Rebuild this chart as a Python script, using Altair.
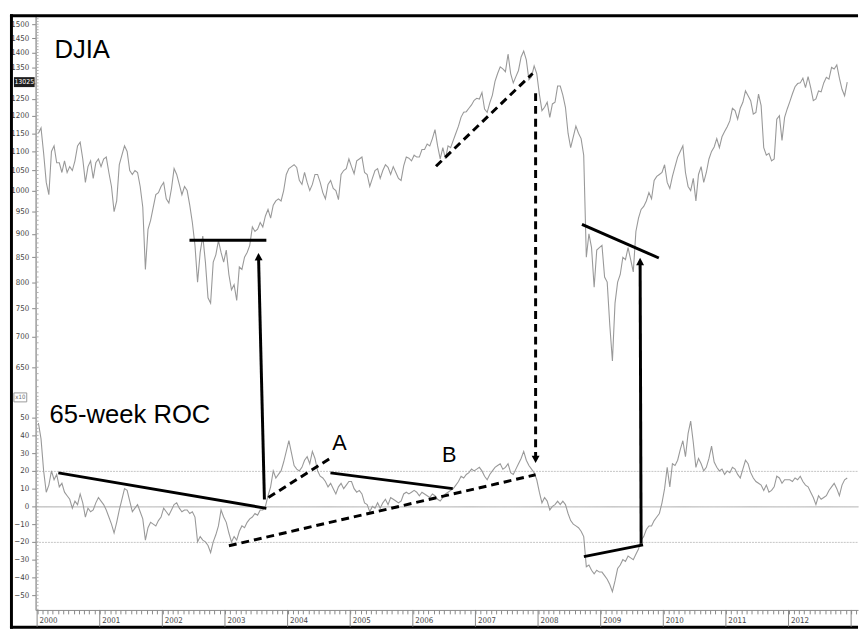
import altair as alt
import pandas as pd

# ---------------- data (DJIA in x10 units, semi-monthly readings) ----------------
years = list(range(2000, 2013))

djia_2000 = [1150, 1165, 1095, 1020, 990, 1100, 1115, 1070, 1070, 1045, 1075, 1045, 1060, 1050, 1075, 1115, 1125, 1080, 1020, 1060, 1075, 1030, 1070, 1080]
djia_2001 = [1060, 1080, 1085, 1045, 1010, 950, 975, 1065, 1090, 1115, 1100, 1050, 1040, 1050, 1045, 1010, 960, 825, 910, 930, 960, 990, 995, 1010]
djia_2002 = [1020, 980, 970, 1005, 1055, 1040, 1015, 990, 1010, 1000, 965, 925, 875, 800, 860, 895, 840, 770, 760, 840, 855, 885, 860, 840]
djia_2003 = [865, 815, 785, 795, 765, 830, 825, 850, 860, 875, 915, 905, 910, 925, 915, 940, 955, 935, 965, 975, 980, 975, 1000, 1040]
djia_2004 = [1055, 1060, 1065, 1058, 1025, 1015, 1045, 1020, 1000, 1015, 1040, 1040, 1020, 995, 980, 1015, 1025, 1005, 1000, 978, 1040, 1050, 1055, 1080]
djia_2005 = [1060, 1042, 1075, 1080, 1085, 1045, 1040, 1010, 1030, 1050, 1055, 1030, 1050, 1065, 1058, 1040, 1060, 1045, 1030, 1025, 1062, 1085, 1082, 1075]
djia_2006 = [1090, 1085, 1085, 1105, 1105, 1120, 1115, 1135, 1160, 1115, 1080, 1110, 1080, 1115, 1110, 1130, 1150, 1170, 1196, 1210, 1212, 1222, 1232, 1246]
djia_2007 = [1252, 1250, 1270, 1220, 1210, 1238, 1262, 1305, 1330, 1352, 1345, 1336, 1395, 1330, 1300, 1320, 1340, 1385, 1405, 1375, 1310, 1320, 1355, 1330]
djia_2008 = [1265, 1215, 1225, 1240, 1195, 1235, 1240, 1290, 1290, 1262, 1225, 1150, 1110, 1140, 1170, 1150, 1135, 1090, 850, 900, 870, 790, 865, 870]
djia_2009 = [875, 810, 800, 720, 660, 760, 800, 815, 850, 845, 870, 845, 820, 905, 935, 955, 962, 975, 995, 980, 1025, 1035, 1040, 1045]
djia_2010 = [1065, 1020, 1005, 1035, 1060, 1085, 1100, 1115, 1045, 1010, 1000, 1030, 975, 1040, 1060, 1020, 1045, 1080, 1100, 1112, 1135, 1110, 1140, 1155]
djia_2011 = [1168, 1185, 1222, 1215, 1190, 1222, 1240, 1275, 1260, 1245, 1205, 1210, 1265, 1230, 1110, 1090, 1095, 1075, 1080, 1190, 1200, 1130, 1195, 1220]
djia_2012 = [1242, 1266, 1288, 1298, 1300, 1315, 1285, 1320, 1285, 1245, 1250, 1275, 1272, 1300, 1318, 1312, 1350, 1345, 1358, 1315, 1280, 1260, 1302.5]

roc_2000 = [47, 38, 20, 8, 12, 20, 15, 18, 11, 13, 8, 6, 4, -1, 3, 1, 7, 2, -6, -1, -3, -2, 2, 5]
roc_2001 = [3, 1, -2, -6, -10, -15, -9, -2, 4, 10, 9, 3, -3, -1, 1, -3, -7, -19, -12, -9, -10, -11, -8, -6]
roc_2002 = [-1, -3, -5, -2, 1, 2, -1, -3, -2, -2, -4, -3, -6, -20, -17, -19, -20, -22, -26, -20, -16, -11, -2, -6]
roc_2003 = [-9, -15, -20, -17, -19, -14, -11, -12, -9, -7, -6, -4, -5, -2, -2, 0, 6, 11, 20, 16, 18, 20, 25, 31]
roc_2004 = [37, 30, 23, 21, 20, 22, 26, 28, 24, 31, 27, 20, 17, 16, 14, 11, 13, 10, 7, 11, 13, 10, 12, 14]
roc_2005 = [14, 10, 8, 9, 7, 2, 1, -3, 0, -1, 2, -1, 2, 4, 1, 5, 4, 3, 2, 3, 7, 8, 7, 8]
roc_2006 = [9, 8, 6, 8, 7, 6, 5, 7, 6, 4, 3, 5, 7, 8, 9, 10, 12, 14, 17, 16, 18, 19, 21, 20]
roc_2007 = [21, 22, 20, 17, 15, 18, 20, 22, 23, 24, 21, 22, 24, 19, 18, 21, 24, 27, 31, 26, 23, 21, 19, 15]
roc_2008 = [8, 2, 5, 3, -2, 0, 1, 3, 1, 3, 1, -4, -8, -10, -11, -12, -14, -17, -34, -33, -36, -38, -36, -37]
roc_2009 = [-37, -39, -41, -44, -48, -42, -35, -33, -30, -31, -28, -29, -30, -27, -24, -19, -17, -13, -11, -11, -8, -6, -4, 2]
roc_2010 = [10, 22, 11, 24, 23, 26, 32, 37, 28, 41, 48, 36, 22, 27, 24, 20, 22, 27, 34, 25, 22, 20, 21, 18]
roc_2011 = [20, 19, 22, 21, 18, 16, 21, 26, 24, 19, 16, 14, 13, 12, 9, 12, 8, 9, 11, 17, 16, 13, 15, 15]
roc_2012 = [15, 14, 16, 15, 17, 14, 12, 11, 8, 5, 1, 6, 4, 5, 6, 9, 11, 13, 10, 6, 12, 15, 16]

djia_ticks = [650, 700, 750, 800, 850, 900, 950, 1000, 1050, 1100, 1150, 1200, 1250, 1300, 1350, 1400, 1450, 1500]
roc_ticks = [-50, -40, -30, -20, -10, 0, 10, 20, 30, 40, 50]
djia_minor_ticks = list(range(620, 1540, 10))
roc_minor_ticks = list(range(-58, 66, 2))
year_ticks = list(range(2000, 2014))
last_value = [1302.5]
last_label = ["13025"]

# annotation readings
djia_solid_t1 = [2002.433, 2008.701]
djia_solid_v1 = [886, 920.7]
djia_solid_t2 = [2003.661, 2009.929]
djia_solid_v2 = [886, 848.4]

djia_dash_t1 = [2006.370]
djia_dash_v1 = [1061]
djia_dash_t2 = [2007.913]
djia_dash_v2 = [1330]

roc_solid_t1 = [2000.339, 2003.630, 2004.685, 2008.732, 2009.646]
roc_solid_r1 = [18.9, 3.9, 18.9, -28.3, -21.1]
roc_solid_t2 = [2003.661, 2003.537, 2006.638, 2009.677, 2009.630]
roc_solid_r2 = [-1.1, 139.5, 10.0, -21.7, 136.7]

roc_dash_t1 = [2003.693, 2003.063, 2007.961]
roc_dash_r1 = [5.0, -22.2, 232.8]
roc_dash_t2 = [2004.685, 2007.961, 2007.961]
roc_dash_r2 = [27.2, 17.8, 27.7]

up_head_t = [2003.535, 2009.630]
up_head_r = [142.8, 140.0]
up_head_angle = [358.6, 0]
down_head_t = [2007.961]
down_head_r = [24.4]

# ---------------- frames ----------------
djia_values = (djia_2000 + djia_2001 + djia_2002 + djia_2003 + djia_2004 + djia_2005 + djia_2006
               + djia_2007 + djia_2008 + djia_2009 + djia_2010 + djia_2011 + djia_2012)
roc_values = (roc_2000 + roc_2001 + roc_2002 + roc_2003 + roc_2004 + roc_2005 + roc_2006
              + roc_2007 + roc_2008 + roc_2009 + roc_2010 + roc_2011 + roc_2012)
times = []
for y in years:
    for m in range(12):
        for h in (0.25, 0.75):
            times.append(y + (m + h) / 12)
times = times[:len(djia_values)]
df = pd.DataFrame({"t": times, "v": djia_values, "r": roc_values})

W, H = 834, 604
NARROW = "Liberation Sans Narrow, Arial Narrow, DejaVu Sans Condensed, Liberation Sans, sans-serif"
SANS = "Liberation Sans, Arial, sans-serif"
GRAY = "#999999"

xscale = alt.Scale(domain=[1999.976, 2013.110], nice=False, zero=False)
djia_scale = alt.Scale(type="log", domain=[359.8, 1536.5], nice=False)
roc_scale = alt.Scale(domain=[-58.33, 277.2], nice=False, zero=False)

month_ticks = [2000 + k / 12 for k in range(158)]
x_axis = alt.Axis(
    values=month_ticks, title=None, grid=False,
    labelExpr="abs(datum.value - round(datum.value)) < 0.001 && datum.value < 2012.5 ? format(datum.value, 'd') : ''",
    tickSize=4, tickColor="#888", domainColor="#888",
    labelAlign="left", labelBaseline="middle", labelPadding=7, labelOffset=2,
    labelFlush=False, labelOverlap=False, labelBound=False,
    labelFont=NARROW, labelFontSize=8, labelColor="#444",
)

djia_axis = alt.Axis(
    values=djia_ticks, orient="left", title=None, grid=False,
    labelExpr="datum.value == 1300 ? '' : datum.value",
    tickSize=4, tickColor="#888", domainColor="#999", labelPadding=3,
    labelFont=NARROW, labelFontSize=8, labelColor="#444",
)
roc_axis = alt.Axis(
    values=roc_ticks, orient="left", title=None,
    grid=True,
    gridColor={"condition": {"test": "datum.value === 0", "value": "#a8a8a8"}, "value": "#c4c4c4"},
    gridOpacity={"condition": {"test": "datum.value === 0 || abs(datum.value) === 20", "value": 1}, "value": 0},
    gridDash={"condition": {"test": "datum.value === 0", "value": [1, 0]}, "value": [2, 1]},
    gridWidth=1,
    tickSize=4, tickColor="#888", domainColor="#999", labelPadding=3,
    labelFont=NARROW, labelFontSize=8, labelColor="#444",
)


def X(field):
    return alt.X(field, type="quantitative", scale=xscale, axis=x_axis)


def YD(field):
    return alt.Y(field, type="quantitative", scale=djia_scale, axis=djia_axis)


def YR(field):
    return alt.Y(field, type="quantitative", scale=roc_scale, axis=roc_axis)


# ---------------- top (DJIA) group ----------------
djia_minor = alt.Chart(pd.DataFrame({"v": djia_minor_ticks})).mark_rule(color="#b0b0b0", strokeWidth=1).encode(
    x=alt.value(1), x2=alt.value(3), y=YD("v"))
djia_line = alt.Chart(df).mark_line(color=GRAY, strokeWidth=1.1).encode(x=X("t"), y=YD("v"))
djia_solid = alt.Chart(pd.DataFrame({"t1": djia_solid_t1, "v1": djia_solid_v1, "t2": djia_solid_t2, "v2": djia_solid_v2})).mark_rule(
    color="black", strokeWidth=3
).encode(x=X("t1"), x2="t2", y=YD("v1"), y2="v2")
djia_dash = alt.Chart(pd.DataFrame({"t1": djia_dash_t1, "v1": djia_dash_v1, "t2": djia_dash_t2, "v2": djia_dash_v2})).mark_rule(
    color="black", strokeWidth=3, strokeDash=[8, 5]
).encode(x=X("t1"), x2="t2", y=YD("v1"), y2="v2")
djia_title = alt.Chart(pd.DataFrame({"t": [2000.276], "v": [1383], "s": ["DJIA"]})).mark_text(
    align="left", baseline="alphabetic", font=SANS, fontSize=26, color="black"
).encode(x=X("t"), y=YD("v"), text="s:N")
box_df = pd.DataFrame({"v": last_value, "s": last_label})
last_box = alt.Chart(box_df).mark_point(
    shape="M-1,-0.48 L1,-0.48 L1,0.48 L-1,0.48 Z", filled=True, size=441, color="#1e1e1e", opacity=1, strokeWidth=0
).encode(x=alt.value(-11.5), y=YD("v"))
last_text = alt.Chart(box_df).mark_text(
    align="center", baseline="middle", font=NARROW, fontSize=7, color="white"
).encode(x=alt.value(-11.5), y=YD("v"), text="s:N")

frame_df = pd.DataFrame({"k": [0]})
frame_left = alt.Chart(frame_df).mark_rule(color="black", strokeWidth=3).encode(
    x=alt.value(-24.5), y=alt.value(0), y2=alt.value(623))
frame_top = alt.Chart(frame_df).mark_rule(color="black", strokeWidth=3).encode(
    x=alt.value(-26), x2=alt.value(W), y=alt.value(1.5))
frame_bottom = alt.Chart(frame_df).mark_rule(color="black", strokeWidth=3).encode(
    x=alt.value(-26), x2=alt.value(W), y=alt.value(621.5))

top = alt.layer(djia_minor, djia_line, djia_solid, djia_dash, djia_title, last_box, last_text,
                frame_left, frame_top, frame_bottom)

# ---------------- bottom (ROC) group ----------------
roc_minor = alt.Chart(pd.DataFrame({"r": roc_minor_ticks})).mark_rule(color="#b0b0b0", strokeWidth=1).encode(
    x=alt.value(1), x2=alt.value(3), y=YR("r"))
roc_line = alt.Chart(df).mark_line(color=GRAY, strokeWidth=1.1).encode(x=X("t"), y=YR("r"))
year_rules = alt.Chart(pd.DataFrame({"t": year_ticks})).mark_rule(color="#888", strokeWidth=1).encode(
    x=X("t"), y=alt.value(H), y2=alt.value(621)
)
roc_solid = alt.Chart(pd.DataFrame({"t1": roc_solid_t1, "r1": roc_solid_r1, "t2": roc_solid_t2, "r2": roc_solid_r2})).mark_rule(
    color="black", strokeWidth=3
).encode(x=X("t1"), x2="t2", y=YR("r1"), y2="r2")
roc_dash = alt.Chart(pd.DataFrame({"t1": roc_dash_t1, "r1": roc_dash_r1, "t2": roc_dash_t2, "r2": roc_dash_r2})).mark_rule(
    color="black", strokeWidth=3, strokeDash=[8, 5]
).encode(x=X("t1"), x2="t2", y=YR("r1"), y2="r2")
up_heads = alt.Chart(pd.DataFrame({"t": up_head_t, "r": up_head_r, "a": up_head_angle})).mark_point(
    shape="M0,0 L-0.8,1.5 L0.8,1.5 Z", filled=True, size=100, color="black", opacity=1, strokeWidth=0
).encode(x=X("t"), y=YR("r"), angle=alt.Angle("a:Q", scale=None))
down_heads = alt.Chart(pd.DataFrame({"t": down_head_t, "r": down_head_r})).mark_point(
    shape="M0,0 L-0.8,-1.5 L0.8,-1.5 Z", filled=True, size=100, color="black", opacity=1, strokeWidth=0
).encode(x=X("t"), y=YR("r"))
roc_title = alt.Chart(pd.DataFrame({"t": [2000.197], "r": [46.7], "s": ["65-week ROC"]})).mark_text(
    align="left", baseline="alphabetic", font=SANS, fontSize=26, color="black"
).encode(x=X("t"), y=YR("r"), text="s:N")
ab_labels = alt.Chart(pd.DataFrame({"t": [2004.827, 2006.583], "r": [31.7, 25.0], "s": ["A", "B"]})).mark_text(
    align="center", baseline="alphabetic", font=SANS, fontSize=22, color="black"
).encode(x=X("t"), y=YR("r"), text="s:N")
x10_df = pd.DataFrame({"r": [61.4], "s": ["x10"]})
x10_box = alt.Chart(x10_df).mark_point(
    shape="M-1,-0.7 L1,-0.7 L1,0.7 L-1,0.7 Z", filled=False, size=169, color="#999", opacity=1, strokeWidth=1
).encode(x=alt.value(-15.5), y=YR("r"))
x10_text = alt.Chart(x10_df).mark_text(
    align="center", baseline="middle", font=NARROW, fontSize=6, color="#666"
).encode(x=alt.value(-15.5), y=YR("r"), text="s:N")

bottom = alt.layer(roc_minor, roc_line, year_rules, roc_solid, roc_dash, up_heads, down_heads,
                   roc_title, ab_labels, x10_box, x10_text)

chart = (
    alt.layer(top, bottom)
    .resolve_scale(y="independent")
    .properties(width=W, height=H, padding=0, background="white")
    .configure_view(stroke=None)
)

chart.save("out.html", embed_options={"renderer": "svg", "actions": False})
